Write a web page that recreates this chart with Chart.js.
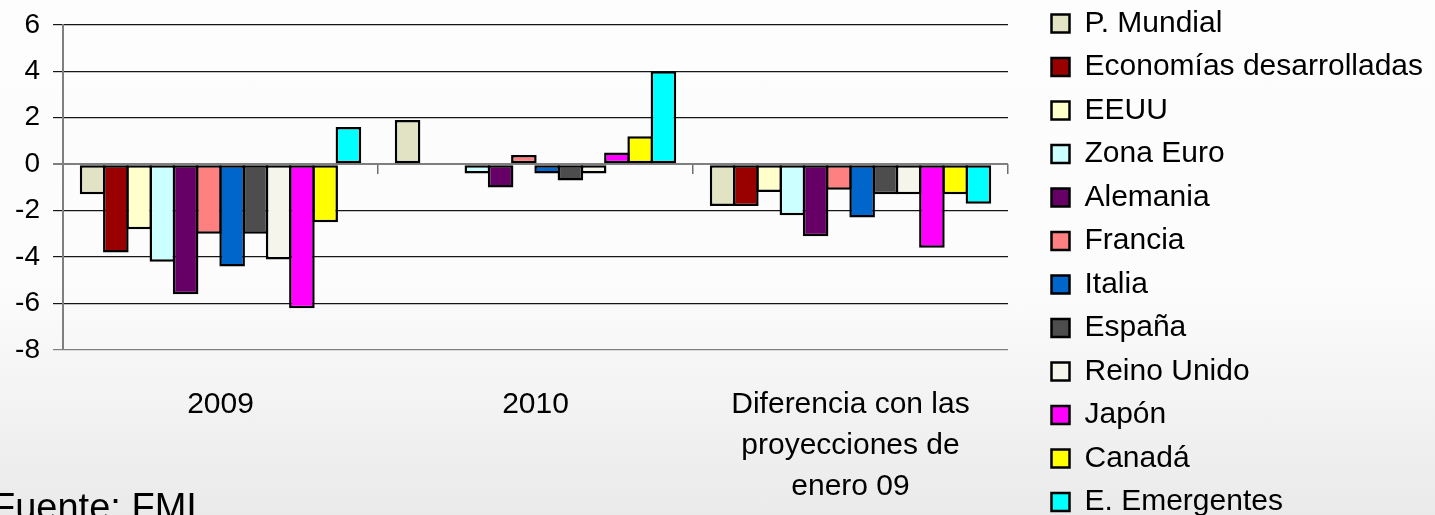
<!DOCTYPE html>
<html lang="es">
<head>
<meta charset="utf-8">
<title>Crecimiento PIB - FMI</title>
<script src="https://cdn.jsdelivr.net/npm/chart.js@4.4.1/dist/chart.umd.min.js"></script>
<style>
  html, body {
    margin: 0;
    padding: 0;
    width: 1435px;
    height: 515px;
    overflow: hidden;
    background: linear-gradient(#fdfdfd 0%, #fcfcfc 55%, #f2f2f2 80%, #eaeaea 100%);
    font-family: "Liberation Sans", Arial, sans-serif;
  }
  #wrap {
    position: absolute;
    left: 0;
    top: -5px;
    width: 1435px;
    height: 540px;
  }
  #fuente {
    position: absolute;
    left: -8px;
    top: 488px;
    font-size: 38px;
    line-height: 38px;
    color: #000;
    white-space: nowrap;
  }
</style>
</head>
<body>
<div id="wrap"><canvas id="imfChart" width="1435" height="540"></canvas></div>
<div id="fuente">Fuente: FMI</div>

<script>
// categorias del eje X
const categories = ['2009', '2010', ['Diferencia con las', 'proyecciones de', 'enero 09']];

// series (crecimiento del PIB, %)
const pMundial          = [-1.3,  1.9, -1.8];
const econDesarrolladas = [-3.8,  0.0, -1.8];
const eeuu              = [-2.8,  0.0, -1.2];
const zonaEuro          = [-4.2, -0.4, -2.2];
const alemania          = [-5.6, -1.0, -3.1];
const francia           = [-3.0,  0.4, -1.1];
const italia            = [-4.4, -0.4, -2.3];
const espana            = [-3.0, -0.7, -1.3];
const reinoUnido        = [-4.1, -0.4, -1.3];
const japon             = [-6.2,  0.5, -3.6];
const canada            = [-2.5,  1.2, -1.3];
const emergentes        = [ 1.6,  4.0, -1.7];

const seriesNames = ['P. Mundial', 'Economías desarrolladas', 'EEUU', 'Zona Euro', 'Alemania', 'Francia',
                     'Italia', 'España', 'Reino Unido', 'Japón', 'Canadá', 'E. Emergentes'];
const seriesValues = [pMundial, econDesarrolladas, eeuu, zonaEuro, alemania, francia,
                      italia, espana, reinoUnido, japon, canada, emergentes];

// eje Y
const yTicks = [-8, -6, -4, -2, 0, 2, 4, 6];

const colors = ['#e2e2c4', '#990000', '#ffffcc', '#ccffff', '#660066', '#ff8080',
                '#0066cc', '#4d4d4d', '#f5f5ec', '#ff00ff', '#ffff00', '#00ffff'];

const datasets = seriesNames.map(function (name, i) {
  return {
    label: name,
    data: seriesValues[i],
    backgroundColor: colors[i],
    borderColor: '#000000',
    borderWidth: 2.5,
    borderSkipped: false,
    barPercentage: 1.1,
    categoryPercentage: 0.886,
  };
});

// fija el ancho de la leyenda para que quede como en la diapositiva
const legendWidthFix = {
  id: 'legendWidthFix',
  beforeLayout(chart) {
    const lg = chart.legend;
    if (lg && !lg._wFix) {
      const fit = lg.fit;
      lg.fit = function () {
        fit.call(this);
        this.width = 397;
      };
      lg._wFix = true;
    }
  }
};

const ctx = document.getElementById('imfChart').getContext('2d');
const imfChart = new Chart(ctx, {
  type: 'bar',
  data: {
    labels: categories,
    datasets: datasets,
  },
  plugins: [legendWidthFix],
  options: {
    responsive: false,
    animation: false,
    devicePixelRatio: 1,
    layout: { padding: 0 },
    plugins: {
      tooltip: { enabled: false },
      legend: {
        position: 'right',
        align: 'start',
        labels: {
          boxWidth: 18,
          boxHeight: 18,
          padding: 13.5,
          color: '#000',
          font: { family: '"Liberation Sans", Arial, sans-serif', size: 30 },
        },
      },
    },
    scales: {
      x: {
        type: 'category',
        position: 'bottom',
        grid: { display: false },
        border: { display: false },
        ticks: {
          color: '#000',
          padding: 26,
          maxRotation: 0,
          autoSkip: false,
          font: { family: '"Liberation Sans", Arial, sans-serif', size: 30, lineHeight: 41 / 30 },
        },
        afterFit(scale) { scale.height = 185; },
      },
      // marcas del eje de categorias sobre el cero
      x0: {
        type: 'category',
        position: { y: 0 },
        ticks: { display: false },
        border: { display: false },
        grid: {
          offset: true,
          drawOnChartArea: false,
          drawTicks: true,
          tickLength: 10,
          color: '#6f6f6f',
          lineWidth: 1.5,
        },
      },
      // espacio superior
      xTop: {
        type: 'category',
        position: 'top',
        ticks: { display: false },
        grid: { display: false },
        border: { display: false },
        afterFit(scale) { scale.height = 29; },
      },
      y: {
        min: yTicks[0],
        max: yTicks[yTicks.length - 1],
        afterBuildTicks(scale) {
          scale.ticks = yTicks.map(function (v) { return { value: v }; });
        },
        ticks: {
          color: '#000',
          padding: 13,
          font: { family: '"Liberation Sans", Arial, sans-serif', size: 28 },
        },
        grid: {
          tickLength: 10,
          color(c) {
            return (c.tick && (c.tick.value === 0 || c.tick.value === -8)) ? '#7f7f7f' : '#161616';
          },
          lineWidth(c) {
            return (c.tick && c.tick.value === 0) ? 2 : 1.2;
          },
        },
        border: { display: true, color: '#7f7f7f', width: 2 },
        afterFit(scale) { scale.width = 63; },
      },
      // espacio entre el grafico y la leyenda
      yR: {
        type: 'linear',
        position: 'right',
        ticks: { display: false },
        grid: { display: false },
        border: { display: false },
        afterFit(scale) { scale.width = 30; },
      },
    },
  },
});
</script>
</body>
</html>
